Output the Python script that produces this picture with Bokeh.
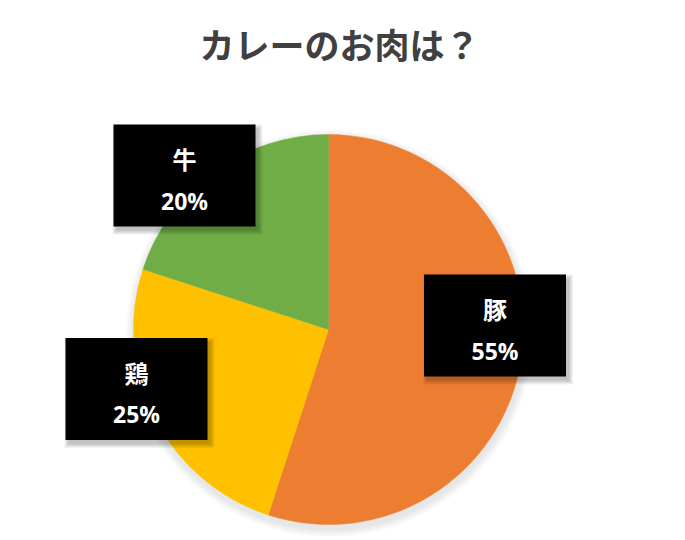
import numpy as np
from bokeh.plotting import figure
from bokeh.models import Range1d, ColumnDataSource
from bokeh.core.properties import value
from bokeh.embed import file_html
from bokeh.resources import INLINE

# ---- data ----
title_text = "カレーのお肉は？"
categories = ["豚", "鶏", "牛"]
shares = [55, 25, 20]
colors = ["#ED7D31", "#FFC000", "#70AD47"]

# ---- layout (screen pixel coords of the page) ----
W, H = 680, 536
cx, cy, R = 328, 329, 195
box_centers = {"豚": (494.5, 325), "鶏": (136, 388.5), "牛": (184, 175)}
box_w, box_h = 142, 102

p = figure(width=W, height=H, output_backend="svg", toolbar_location=None,
           x_range=Range1d(0, W), y_range=Range1d(-H, 0),
           min_border=0, outline_line_color=None)
p.axis.visible = False
p.grid.visible = False
p.background_fill_color = "white"
p.border_fill_color = "white"

# soft pie shadow
for k in range(8):
    p.circle(x=[cx + 1], y=[-(cy + 4)], radius=R + 9 - k, fill_color="#000000",
             fill_alpha=0.012, line_color=None)

# pie wedges, clockwise from 12 o'clock
total = float(sum(shares))
fracs = np.array(shares) / total
ends = np.cumsum(fracs)
starts = ends - fracs
src = ColumnDataSource(dict(
    cat=categories,
    start=list(np.pi / 2 - ends * 2 * np.pi),
    end=list(np.pi / 2 - starts * 2 * np.pi),
    color=colors,
))
p.wedge(x=cx, y=-cy, radius=R, start_angle="start", end_angle="end",
        fill_color="color", line_color="color", line_width=0.5, source=src)

# title
p.text(x=[339], y=[-43], text=[title_text], text_align="center",
       text_baseline="middle", text_font=value("Noto Sans CJK JP"),
       text_font_size="35px", text_font_style="bold", text_color="#404040")

# label boxes with shadow
for cat, sh in zip(categories, shares):
    bx, by = box_centers[cat]
    for k in range(5):
        p.rect(x=[bx + 3], y=[-(by + 4)], width=box_w + 8 - 2 * k,
               height=box_h + 8 - 2 * k, fill_color="#000000",
               fill_alpha=0.05, line_color=None)
    p.rect(x=[bx], y=[-by], width=box_w, height=box_h, fill_color="#000000",
           line_color=None)
    p.text(x=[bx], y=[-(by - 17)], text=[cat], text_align="center",
           text_baseline="middle", text_font=value("Noto Sans CJK JP"),
           text_font_size="24px", text_font_style="bold", text_color="white")
    p.text(x=[bx], y=[-(by + 25)], text=[f"{sh}%"], text_align="center",
           text_baseline="middle", text_font=value("Open Sans"),
           text_font_size="23px", text_font_style="bold", text_color="white")

open("out.html", "w").write(file_html(p, INLINE))
